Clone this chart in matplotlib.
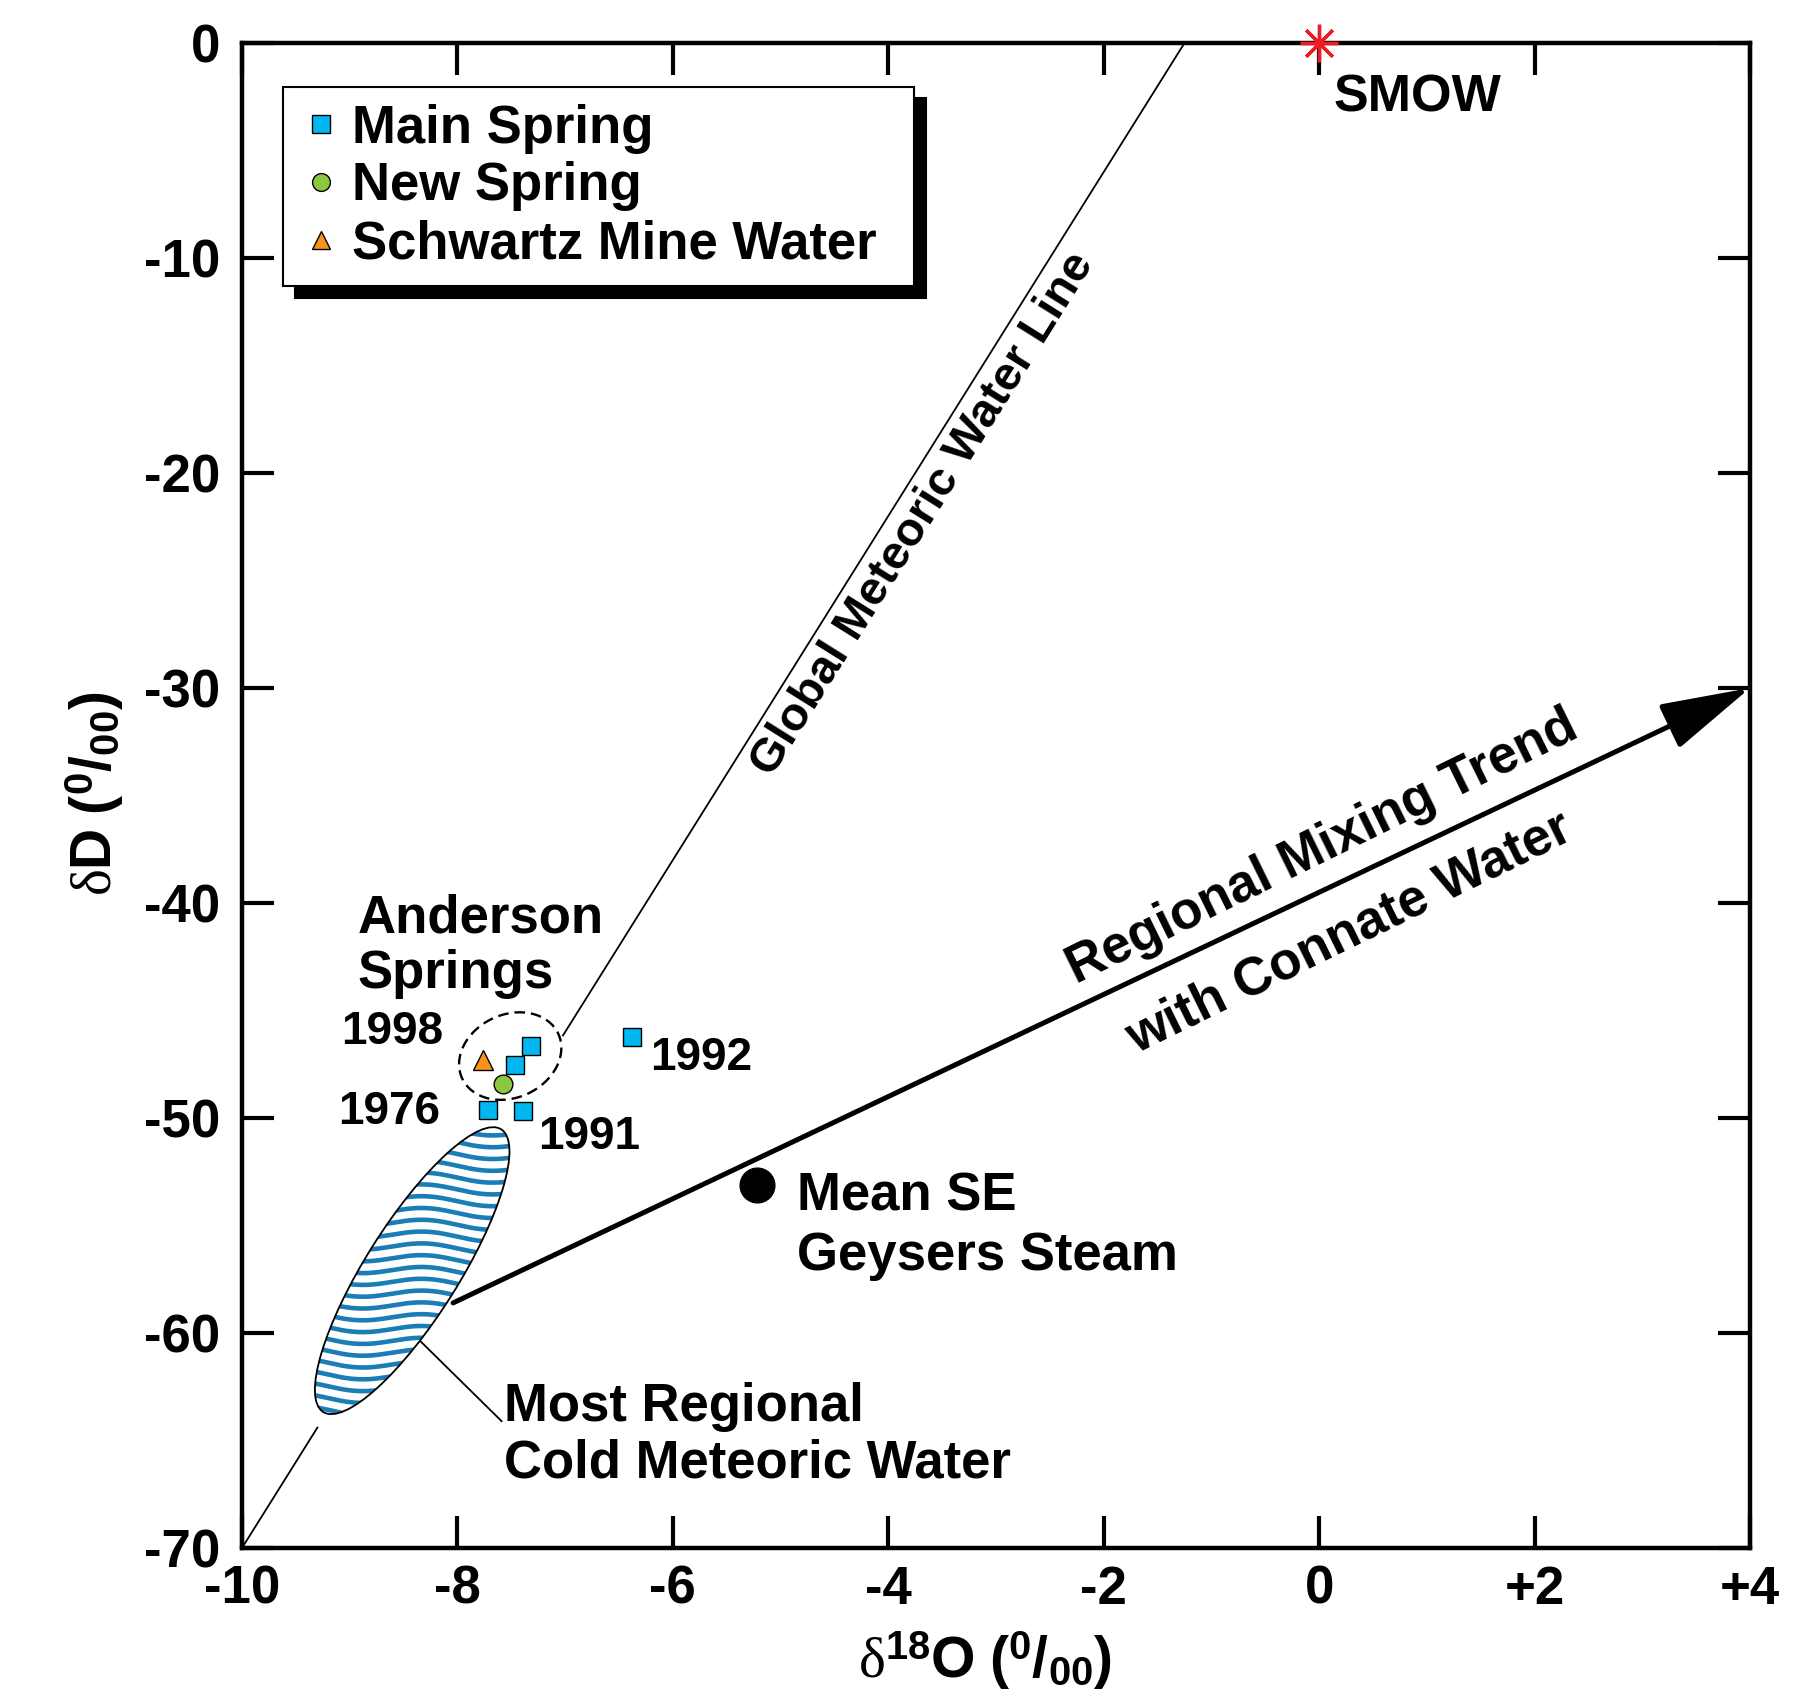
import numpy as np
import matplotlib
matplotlib.use('Agg')
import matplotlib.pyplot as plt
import matplotlib.patches as mpatches
import matplotlib.transforms as mtransforms

plt.rcParams['font.family'] = ['Liberation Sans', 'DejaVu Sans']
plt.rcParams['font.weight'] = 'bold'
plt.rcParams['mathtext.fontset'] = 'custom'
plt.rcParams['mathtext.rm'] = 'Liberation Serif:weight=normal'
plt.rcParams['mathtext.it'] = 'Liberation Serif:italic:weight=normal'
plt.rcParams['mathtext.bf'] = 'Liberation Sans:weight=bold'
plt.rcParams['mathtext.sf'] = 'Liberation Sans:weight=bold'

# --- data (delta 18O, delta D in per mil) ---
main_x = [-7.32, -7.47, -6.38, -7.72, -7.39]
main_y = [-46.65, -47.53, -46.25, -49.63, -49.66]
new_x = [-7.58]
new_y = [-48.42]
mine_x = [-7.76]
mine_y = [-47.30]
geysers_x = [-5.215]
geysers_y = [-53.12]
smow_x = [0.0]
smow_y = [0.0]

# global meteoric water line dD = 8 d18O + 10, drawn in pieces
gmwl_slope, gmwl_icpt = 8.0, 10.0
gmwl_pieces = [(-10.0, -9.30), (-7.02, -1.25)]

# regional mixing trend arrow
trend_start = (-8.04, -58.6)
trend_end = (4.0, -30.0)

cold_center = (-8.42, -57.1)
cluster_center = (-7.51, -47.12)

year_labels = ['1998', '1992', '1976', '1991']
year_x = [-8.13, -6.21, -8.16, -7.25]
year_y = [-46.55, -47.75, -50.30, -51.45]
year_ha = ['right', 'left', 'right', 'left']

xticks = [-10, -8, -6, -4, -2, 0, 2, 4]
xtick_labels = ['-10', '-8', '-6', '-4', '-2', '0', '+2', '+4']
yticks = [0, -10, -20, -30, -40, -50, -60, -70]
ytick_labels = ['0', '-10', '-20', '-30', '-40', '-50', '-60', '-70']

fig = plt.figure(figsize=(18.09, 16.97), dpi=100)
ax = fig.add_axes([242 / 1809, 1 - 1548 / 1697, 1508 / 1809, 1505 / 1697])
ax.set_xlim(-10, 4)
ax.set_ylim(-70, 0)

for s in ax.spines.values():
    s.set_linewidth(3.2)
ax.set_xticks(xticks, labels=xtick_labels)
ax.set_yticks(yticks, labels=ytick_labels)
ax.tick_params(axis='both', direction='in', length=23, width=3, top=True, right=True,
               labelsize=38)
ax.tick_params(axis='x', pad=12)
ax.tick_params(axis='y', pad=16)

# GMWL
for x0, x1 in gmwl_pieces:
    xs = np.array([x0, x1])
    ax.plot(xs, gmwl_slope * xs + gmwl_icpt, color='k', lw=1.3, zorder=2)

def screen_angle(p0, p1):
    a = ax.transData.transform(p0)
    b = ax.transData.transform(p1)
    return np.degrees(np.arctan2(b[1] - a[1], b[0] - a[0]))

gm_ang = screen_angle((-10, -70), (-1.25, 0))
ax.text(-3.68, -21.9, 'Global Meteoric Water Line', rotation=gm_ang, rotation_mode='anchor',
        ha='center', va='center', fontsize=34)

# mixing trend arrow
arr = mpatches.FancyArrowPatch(trend_start, trend_end, arrowstyle='-|>,head_length=56,head_width=15',
                               mutation_scale=1, color='k', lw=3.6, shrinkA=0, shrinkB=0,
                               zorder=4, clip_on=False)
ax.add_patch(arr)
tr_ang = screen_angle(trend_start, trend_end) + 0.8
ax.text(0.03, -37.4, 'Regional Mixing Trend', rotation=tr_ang, rotation_mode='anchor',
        ha='center', va='center', fontsize=38)
ax.text(0.28, -41.4, 'with Connate Water', rotation=tr_ang, rotation_mode='anchor',
        ha='center', va='center', fontsize=38)

# cold meteoric water ellipse with wavy fill
off = fig.dpi_scale_trans + mtransforms.ScaledTranslation(cold_center[0], cold_center[1], ax.transData)
ell = mpatches.Ellipse((0, 0), 3.34, 0.93, angle=57.8, transform=off, fc='white', ec='none', zorder=3)
ax.add_patch(ell)
t = np.linspace(-1.3, 1.3, 400)
for k in range(-14, 15):
    yy = k * 0.118 + 0.04 * np.sin(2 * np.pi * (t + 0.2) / 1.3) - 0.03 * t
    ln, = ax.plot(t, yy, color='#1b7db5', lw=3.3, transform=off, zorder=3.5)
    ln.set_clip_path(ell)
ax.add_patch(mpatches.Ellipse((0, 0), 3.34, 0.93, angle=57.8, transform=off, fc='none',
                              ec='k', lw=1.3, zorder=4))
ax.plot([-8.34, -7.59], [-60.4, -64.1], color='k', lw=1.3, zorder=2)

# dashed ring around Anderson Springs
off2 = fig.dpi_scale_trans + mtransforms.ScaledTranslation(cluster_center[0], cluster_center[1], ax.transData)
ax.add_patch(mpatches.Ellipse((0, 0), 1.06, 0.83, angle=25, transform=off2, fc='none', ec='k',
                              lw=1.7, ls=(0, (4.5, 2.5)), zorder=3))

# points
h1, = ax.plot(main_x, main_y, 's', ms=13, mfc='#00b7ef', mec='k', mew=1.0, ls='none',
              label='Main Spring', zorder=6)
h2, = ax.plot(new_x, new_y, 'o', ms=13.5, mfc='#8dc63f', mec='k', mew=1.0, ls='none',
              label='New Spring', zorder=6)
h3, = ax.plot(mine_x, mine_y, '^', ms=14, mfc='#f7931e', mec='k', mew=1.0, ls='none',
              label='Schwartz Mine Water', zorder=6)
ax.plot(geysers_x, geysers_y, 'o', ms=25, color='k', zorder=6)
ax.plot(smow_x, smow_y, marker=(8, 2, 0), ms=27, mew=2.4, color='#ed1c24', ls='none',
        zorder=7, clip_on=False)

# labels
ax.text(0.13, -3.2, 'SMOW', fontsize=37.5, ha='left', va='baseline')
ax.text(-8.93, -41.35, 'Anderson', fontsize=38, ha='left', va='baseline')
ax.text(-8.93, -43.95, 'Springs', fontsize=38, ha='left', va='baseline')
for lab, x, y, ha in zip(year_labels, year_x, year_y, year_ha):
    ax.text(x, y, lab, fontsize=33, ha=ha, va='baseline')
ax.text(-4.85, -54.28, 'Mean SE', fontsize=38, ha='left', va='baseline')
ax.text(-4.85, -57.07, 'Geysers Steam', fontsize=38, ha='left', va='baseline')
ax.text(-7.567, -64.1, 'Most Regional', fontsize=38, ha='left', va='baseline')
ax.text(-7.567, -66.74, 'Cold Meteoric Water', fontsize=38, ha='left', va='baseline')

leg = ax.legend(handles=[h1, h2, h3], loc='upper left',
                bbox_to_anchor=(0.027, 0.80, 0.4185, 0.171), mode='expand',
                borderaxespad=0, frameon=True, fancybox=False,
                shadow={'ox': 8.5, 'oy': -8.5, 'color': 'k', 'alpha': 1},
                edgecolor='k', framealpha=1, prop={'size': 38, 'weight': 'bold'},
                markerscale=0.95, handlelength=0.8, handletextpad=0.2, labelspacing=0.15,
                borderpad=0.32)
leg.get_frame().set_linewidth(1.5)

ax.set_xlabel(r'$\mathrm{\delta}^{\mathbf{18}}\mathbf{O\ (}^{\mathbf{0}}\mathbf{/}_{\mathbf{00}}\mathbf{)}$',
              fontsize=41)
ax.xaxis.label.set_va('center')
ax.xaxis.set_label_coords(0.493, -0.075)
ax.set_ylabel(r'$\mathrm{\delta}\mathbf{D\ (}^{\mathbf{0}}\mathbf{/}_{\mathbf{00}}\mathbf{)}$',
              fontsize=41)
ax.yaxis.label.set_va('center')
ax.yaxis.set_label_coords(-0.0975, 0.501)

fig.savefig('out.png', dpi=100)
